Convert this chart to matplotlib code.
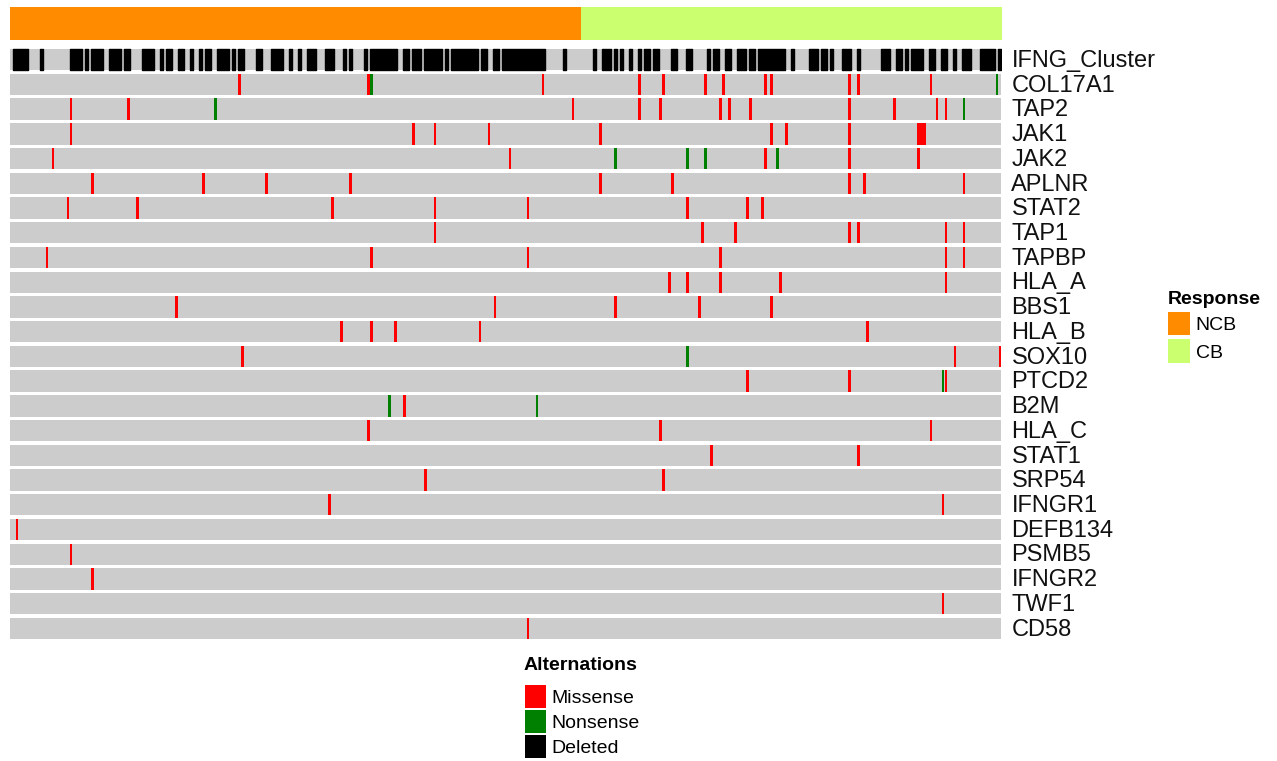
import matplotlib
matplotlib.use("Agg")
import matplotlib.pyplot as plt
from matplotlib.patches import Patch

plt.rcParams['font.family'] = ['Liberation Sans', 'DejaVu Sans']

# samples: 190 non-clinical-benefit (NCB) then 140 clinical-benefit (CB)
n_samples = 330
n_ncb = 190
n_cb = n_samples - n_ncb

genes = ["IFNG_Cluster", "COL17A1", "TAP2", "JAK1", "JAK2", "APLNR", "STAT2",
         "TAP1", "TAPBP", "HLA_A", "BBS1", "HLA_B", "SOX10", "PTCD2", "B2M",
         "HLA_C", "STAT1", "SRP54", "IFNGR1", "DEFB134", "PSMB5", "IFNGR2",
         "TWF1", "CD58"]

# IFNG cluster deletions as (first sample, number of samples)
ifng_deleted = [(1, 5), (10, 1), (20, 4), (25, 1), (27, 4), (33, 4), (38, 2),
                (44, 4), (50, 1), (52, 2), (56, 2), (60, 1), (63, 1), (65, 2),
                (69, 4), (74, 1), (76, 2), (82, 2), (87, 4), (93, 1), (96, 1),
                (99, 3), (105, 3), (111, 1), (113, 1), (118, 1), (120, 9),
                (131, 2), (134, 3), (138, 6), (145, 1), (147, 9), (157, 2),
                (161, 2), (164, 14), (184, 1), (194, 1), (197, 3), (201, 1),
                (203, 1), (206, 1), (209, 1), (211, 2), (214, 2), (220, 2),
                (225, 2), (232, 1), (234, 2), (238, 2), (242, 3), (246, 2),
                (249, 9), (260, 1), (266, 3), (270, 2), (273, 1), (277, 3),
                (282, 1), (290, 3), (295, 2), (298, 1), (300, 4), (306, 2),
                (310, 2), (314, 1), (317, 3), (323, 5), (329, 1)]

missense = {
    "COL17A1": [76, 119, 177, 209, 217, 231, 237, 251, 253, 279, 282, 306],
    "TAP2": [20, 39, 187, 209, 216, 236, 239, 246, 279, 294, 308, 311],
    "JAK1": [20, 134, 141, 159, 196, 253, 258, 279, 302, 303, 304],
    "JAK2": [14, 166, 251, 279, 302],
    "APLNR": [27, 64, 85, 113, 196, 220, 279, 284, 317],
    "STAT2": [19, 42, 107, 141, 172, 225, 245, 250],
    "TAP1": [141, 230, 241, 279, 282, 311, 317],
    "TAPBP": [12, 120, 172, 236, 311, 317],
    "HLA_A": [219, 225, 236, 256, 311],
    "BBS1": [55, 161, 201, 229, 253],
    "HLA_B": [110, 120, 128, 156, 285],
    "SOX10": [77, 314, 329],
    "PTCD2": [245, 279, 311],
    "B2M": [131],
    "HLA_C": [119, 216, 306],
    "STAT1": [233, 282],
    "SRP54": [138, 217],
    "IFNGR1": [106, 310],
    "DEFB134": [2],
    "PSMB5": [20],
    "IFNGR2": [27],
    "TWF1": [310],
    "CD58": [172],
}

nonsense = {
    "COL17A1": [120, 328],
    "TAP2": [68, 317],
    "JAK2": [201, 225, 231, 255],
    "SOX10": [225],
    "PTCD2": [310],
    "B2M": [126, 175],
}

c_ncb = "#FF8C00"
c_cb = "#CCFF70"
c_bg = "#CCCCCC"
c_mis = "#FF0000"
c_non = "#008000"
c_del = "#000000"

W, H = 1277, 761
fig = plt.figure(figsize=(W / 100, H / 100), dpi=100)
ax = fig.add_axes([9.5 / W, 1 - 640.8 / H, 992 / W, (640.8 - 7) / H])
ax.set_xlim(0, n_samples)
ax.set_ylim(len(genes), -1.63)
ax.axis("off")

cell_h = 0.865
pad = (1 - cell_h) / 2

# response annotation bar
ax.barh(-0.9625, n_ncb, left=0, height=1.335, color=c_ncb, align="center")
ax.barh(-0.9625, n_cb, left=n_ncb, height=1.335, color=c_cb, align="center")

for i, g in enumerate(genes):
    ax.barh(i + 0.5, n_samples, left=0, height=cell_h, color=c_bg)
    if g == "IFNG_Cluster":
        ax.broken_barh(ifng_deleted, (i + pad, cell_h), color=c_del)
    for idx in missense.get(g, []):
        ax.bar(idx + 0.5, cell_h, width=0.9, bottom=i + pad, color=c_mis)
    for idx in nonsense.get(g, []):
        ax.bar(idx + 0.5, cell_h, width=0.9, bottom=i + pad, color=c_non)
    ax.text(n_samples + 3.3, i + 0.55, g, fontsize=17, va="center", ha="left",
            color="#111111")

resp_handles = [Patch(facecolor=c_ncb, label="NCB"),
                Patch(facecolor=c_cb, label="CB")]
fig.legend(handles=resp_handles, title="Response", loc="upper left",
           bbox_to_anchor=(1168 / W, 1 - 291 / H), frameon=False, fontsize=14,
           title_fontproperties={"weight": "bold", "size": 14}, alignment="left",
           handlelength=1.13, handleheight=1.49, handletextpad=0.3,
           labelspacing=0.2, borderpad=0, borderaxespad=0)

# alterations legend: title placed on its own, a bit further above the boxes
alt_handles = [Patch(facecolor=c_mis, label="Missense"),
               Patch(facecolor=c_non, label="Nonsense"),
               Patch(facecolor=c_del, label="Deleted")]
fig.text(524 / W, 1 - 666 / H, "Alternations", fontsize=14, fontweight="bold",
         va="center", ha="left")
fig.legend(handles=alt_handles, loc="upper left",
           bbox_to_anchor=(525 / W, 1 - 685 / H), frameon=False, fontsize=14,
           handlelength=1.08, handleheight=1.44, handletextpad=0.3,
           labelspacing=0.1, borderpad=0, borderaxespad=0)

fig.savefig("out.png", dpi=100)
